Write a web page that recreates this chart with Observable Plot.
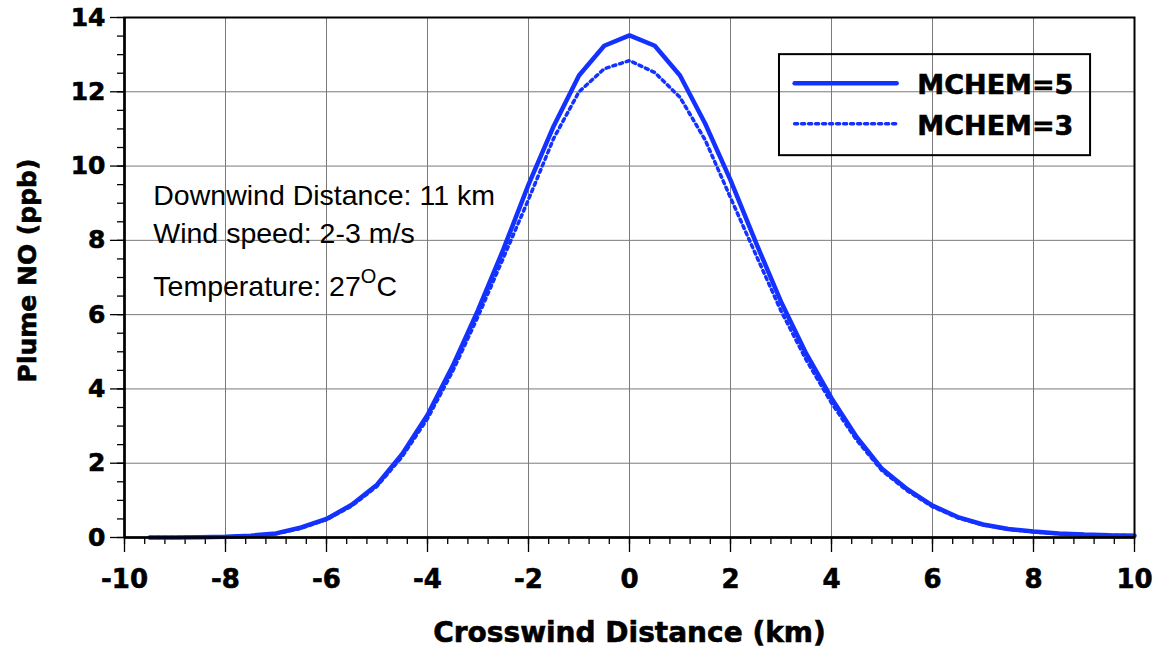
<!DOCTYPE html>
<html><head><meta charset="utf-8">
<script src="https://cdn.jsdelivr.net/npm/d3@7"></script>
<script src="https://cdn.jsdelivr.net/npm/@observablehq/plot@0.6"></script>
<style>body{margin:0;background:#fff} svg{display:block}
g[font-weight="bold"] text{stroke:#000;stroke-width:0.6px;}</style>
</head><body><div id="chart"></div>
<script>
const crosswindKm = [-9.5,-9,-8.5,-8,-7.5,-7,-6.5,-6,-5.5,-5,-4.5,-4,-3.5,-3,-2.5,-2,-1.5,-1,-0.5,0,0.5,1,1.5,2,2.5,3,3.5,4,4.5,5,5.5,6,6.5,7,7.5,8,8.5,9,9.5,10];
const mchem5 = [0.00,0.00,0.01,0.02,0.05,0.11,0.27,0.50,0.88,1.42,2.25,3.30,4.62,6.12,7.75,9.50,11.08,12.44,13.24,13.52,13.24,12.44,11.14,9.62,7.95,6.35,4.95,3.75,2.70,1.85,1.30,0.86,0.55,0.35,0.23,0.16,0.11,0.08,0.06,0.05];
const mchem3 = [0.00,0.00,0.01,0.02,0.04,0.10,0.25,0.48,0.85,1.38,2.18,3.20,4.48,5.95,7.52,9.10,10.75,12.00,12.62,12.84,12.52,11.85,10.70,9.15,7.62,6.10,4.78,3.62,2.62,1.80,1.26,0.83,0.53,0.34,0.22,0.15,0.10,0.08,0.06,0.05];
const seriesNames = ["MCHEM=5", "MCHEM=3"];
const xTicks = [-10,-8,-6,-4,-2,0,2,4,6,8,10];
const yTicks = [0,2,4,6,8,10,12,14];
const notes = ["Downwind Distance: 11 km", "Wind speed: 2-3 m/s", "Temperature: 27°C"];

const blue = "#1432ff";
const tickFont = "DejaVu Sans, sans-serif";
const s5 = crosswindKm.map((x,i)=>({x, y: mchem5[i]}));
const s3 = crosswindKm.map((x,i)=>({x, y: mchem3[i]}));
const xMinor = d3.range(-10, 10.001, 0.4).map(v=>+v.toFixed(2));
const yMinor = d3.range(0, 14.001, 0.5);

const plot = Plot.plot({
  width: 1158, height: 660,
  marginLeft: 124, marginRight: 24, marginTop: 17, marginBottom: 123,
  x: {domain: [-10, 10]},
  y: {domain: [0, 14]},
  style: {fontFamily: tickFont, background: "#fff"},
  marks: [
    Plot.gridX(xTicks, {stroke: "#7a7a7a", strokeOpacity: 1, strokeWidth: 1}),
    Plot.gridY(yTicks, {stroke: "#7a7a7a", strokeOpacity: 1, strokeWidth: 1}),
    Plot.axisX(xMinor, {tickSize: 7, text: null, label: null, stroke: "#000", strokeWidth: 1.3}),
    Plot.axisY(yMinor, {tickSize: 7, text: null, label: null, stroke: "#000", strokeWidth: 1.3}),
    Plot.axisX(xTicks, {tickSize: 15, tickPadding: 17, label: null, tickFormat: d => String(d), fontSize: 26, fontWeight: "bold", stroke: "#000", strokeWidth: 1.3, fill: "#000"}),
    Plot.axisY(yTicks, {tickSize: 14, tickPadding: 5, label: null, tickFormat: d => String(d), fontSize: 25, fontWeight: "bold", stroke: "#000", strokeWidth: 1.3, fill: "#000"}),
    Plot.line(s5, {x: "x", y: "y", stroke: blue, strokeWidth: 4.5, strokeLinejoin: "miter"}),
    Plot.line(s3, {x: "x", y: "y", stroke: blue, strokeWidth: 3.5, strokeDasharray: "3,4"}),
    Plot.frame({stroke: "#000", strokeWidth: 2}),
    Plot.ruleX([-10], {stroke: "#000", strokeWidth: 2.5}),
    Plot.ruleY([0], {stroke: "#000", strokeWidth: 2.5}),
    // axis titles
    Plot.text(["Crosswind Distance (km)"], {frameAnchor: "bottom", dy: 104, lineAnchor: "bottom", fontSize: 28, fontWeight: "bold", fill: "#000"}),
    Plot.text(["Plume NO (ppb)"], {frameAnchor: "left", dx: -89, dy: -7, rotate: -90, textAnchor: "middle", lineAnchor: "bottom", fontSize: 25, fontWeight: "bold", fill: "#000"}),
    // annotations
    Plot.text(notes, {x: -9.43, y: [8.94, 7.92, 6.5], text: d=>d, textAnchor: "start", lineAnchor: "bottom", fontFamily: "Liberation Sans, Arial, sans-serif", fontSize: 28.5, fill: "#000"}),
    // legend
    Plot.rect([0], {x1: 2.97, x2: 9.13, y1: 10.28, y2: 13.0, fill: "none", stroke: "#000", strokeWidth: 2}),
    Plot.line([[3.27,12.23],[5.29,12.23]], {stroke: blue, strokeWidth: 4.5}),
    Plot.line([[3.27,11.14],[5.29,11.14]], {stroke: blue, strokeWidth: 3.5, strokeDasharray: "3,4"}),
    Plot.text(seriesNames, {x: 5.70, y: [11.95, 10.85], text: d=>d, textAnchor: "start", lineAnchor: "bottom", fontSize: 27, fontWeight: "bold", fill: "#000"})
  ]
});
document.getElementById("chart").appendChild(plot);
// superscript O in temperature
d3.select(plot).selectAll("text").each(function(){
  const t = d3.select(this);
  if (t.text() === "Temperature: 27°C") {
    t.text("Temperature: 27");
    t.append("tspan").attr("dy", "-13").attr("font-size", "20").text("O");
    t.append("tspan").attr("dy", "13").text("C");
  }
});
</script></body></html>
